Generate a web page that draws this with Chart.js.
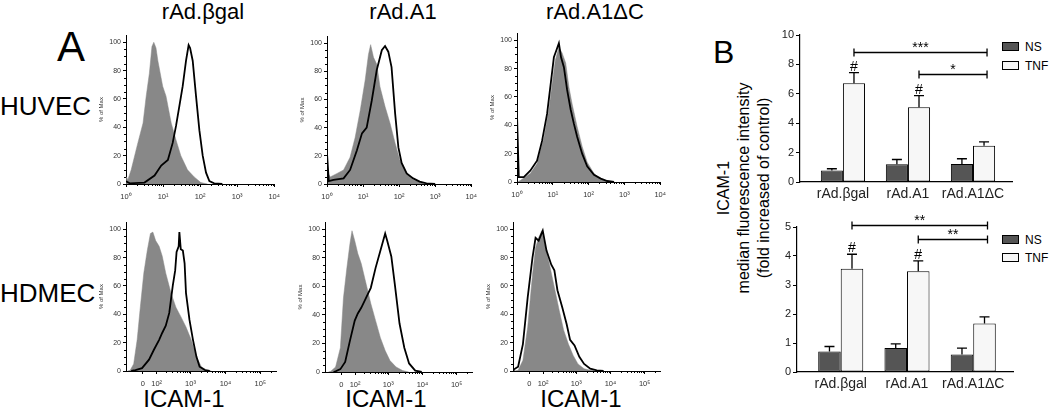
<!DOCTYPE html>
<html>
<head>
<meta charset="utf-8">
<script src="https://cdn.jsdelivr.net/npm/chart.js@4/dist/chart.umd.min.js"></script>
<style>
  body { margin: 0; background: #fff; width: 1050px; height: 414px; position: relative; overflow: hidden;
         font-family: "Liberation Sans", Arial, sans-serif; color: #000; }
  .t { position: absolute; white-space: nowrap; line-height: 1; }
  .c { transform: translateX(-50%); }
  canvas { position: absolute; }
  .lg { position: absolute; width: 17px; height: 9px; border: 1px solid #000; box-sizing: border-box; }
  .ylab { position: absolute; left: 624px; top: 158px; width: 240px; font-size: 16px; line-height: 20px;
          text-align: center; transform: rotate(-90deg); }
</style>
</head>
<body>

<div class="t c" style="left:203px;top:1px;font-size:22px">rAd.βgal</div>
<div class="t c" style="left:403px;top:1px;font-size:22px">rAd.A1</div>
<div class="t c" style="left:595px;top:1px;font-size:22px">rAd.A1ΔC</div>
<div class="t" style="left:57px;top:26px;font-size:42px">A</div>
<div class="t" style="left:0px;top:93px;font-size:26px">HUVEC</div>
<div class="t" style="left:0px;top:280px;font-size:26px">HDMEC</div>
<div class="t c" style="left:184px;top:387px;font-size:24px">ICAM-1</div>
<div class="t c" style="left:386px;top:387px;font-size:24px">ICAM-1</div>
<div class="t c" style="left:581px;top:387px;font-size:24px">ICAM-1</div>
<div class="t" style="left:713px;top:36px;font-size:32px">B</div>
<div class="ylab">ICAM-1<br>median fluorescence intensity<br>(fold increased of control)</div>

<div class="lg" style="left:1002px;top:42px;background:#555"></div>
<div class="t" style="left:1025px;top:41px;font-size:12px">NS</div>
<div class="lg" style="left:1002px;top:61px;background:#f7f7f7"></div>
<div class="t" style="left:1025px;top:60px;font-size:12px">TNF</div>
<div class="lg" style="left:1002px;top:235px;background:#555"></div>
<div class="t" style="left:1025px;top:234px;font-size:12px">NS</div>
<div class="lg" style="left:1002px;top:253px;background:#f7f7f7"></div>
<div class="t" style="left:1025px;top:252px;font-size:12px">TNF</div>

<canvas id="h1"></canvas><canvas id="h2"></canvas><canvas id="h3"></canvas>
<canvas id="h4"></canvas><canvas id="h5"></canvas><canvas id="h6"></canvas>
<canvas id="b1"></canvas><canvas id="b2"></canvas>

<script>
// histograms: [position, % of max]; top row in decades (10^0 = 0), bottom row biexponential units
const huvecBgalCtrl = [[0,0],[0.01,5],[0.05,3],[0.14,10],[0.32,29],[0.46,43],[0.545,62],[0.63,78],[0.70,97],[0.75,100],[0.81,96],[0.86,87],[0.99,69],[1.08,62],[1.22,43],[1.35,31],[1.48,20],[1.66,10],[1.84,5],[2.02,1],[2.2,0]];
const huvecBgalIcam = [[0,2],[0.1,0.5],[0.5,1],[0.77,6],[0.95,13],[1.13,17],[1.26,29],[1.35,41],[1.44,55],[1.53,69],[1.62,87],[1.69,98],[1.73,96],[1.80,87],[1.89,62],[1.98,38],[2.07,20],[2.16,8],[2.25,2],[2.38,0.5],[2.6,0]];
const huvecA1Ctrl = [[0,0],[0.02,8],[0.09,5],[0.28,7.5],[0.46,10],[0.64,19],[0.78,33],[0.92,52],[1.06,74],[1.15,92],[1.21,99],[1.29,90],[1.38,85],[1.47,69],[1.61,55],[1.75,43],[1.89,29],[2.02,17],[2.21,7.5],[2.39,3],[2.67,0.5],[2.9,0]];
const huvecA1Icam = [[0,0],[0,22],[0.05,2],[0.18,3],[0.46,4],[0.64,10],[0.83,24],[0.97,36],[1.10,40],[1.24,59],[1.38,81],[1.52,95],[1.61,98],[1.70,94],[1.79,83],[1.89,50],[1.98,26],[2.07,15],[2.21,7.5],[2.39,4],[2.57,1.7],[2.76,0.5],[3.0,0]];
const huvecDcCtrl = [[0,0],[0.09,1],[0.37,6],[0.56,13],[0.75,31],[0.89,51],[0.98,69],[1.07,86],[1.17,95],[1.26,91],[1.36,84],[1.45,67],[1.54,55],[1.68,39],[1.82,25],[1.96,14],[2.15,6],[2.34,2],[2.52,0.5],[2.7,0]];
const huvecDcIcam = [[0,0],[0,48],[0.05,3.5],[0.19,3.5],[0.37,8],[0.56,15],[0.70,29],[0.84,48],[0.93,67],[1.03,88],[1.10,93],[1.17,98],[1.23,88],[1.31,81],[1.40,65],[1.50,51],[1.59,41],[1.68,32],[1.82,20],[1.96,11],[2.15,5],[2.34,2.4],[2.52,0.7],[2.71,0]];
const hdmecBgalCtrl = [[1.2,0],[1.27,0.5],[1.37,5],[1.47,22],[1.56,45],[1.66,69],[1.76,85],[1.85,97],[1.92,98],[2.0,92],[2.10,88],[2.19,81],[2.29,69],[2.44,55],[2.58,45],[2.73,38],[2.87,31],[3.02,22],[3.17,10],[3.31,3],[3.46,0.7],[3.6,0]];
const hdmecBgalIcam = [[1.3,0],[1.42,0.7],[1.61,2],[1.81,8],[1.95,15],[2.10,22],[2.19,27],[2.29,32],[2.39,41],[2.49,60],[2.56,71],[2.6,84],[2.66,88],[2.68,98],[2.72,86],[2.78,85],[2.83,76],[2.87,55],[2.97,36],[3.07,22],[3.17,10],[3.26,3],[3.41,0.7],[3.55,0]];
const hdmecA1Ctrl = [[1.25,0],[1.32,0.5],[1.46,3.5],[1.6,17],[1.69,52],[1.79,73],[1.88,90],[1.94,99],[2.02,92],[2.11,83],[2.21,76],[2.35,62],[2.49,48],[2.63,36],[2.77,24],[2.91,15],[3.05,8],[3.23,3.5],[3.42,1],[3.6,0]];
const hdmecA1Icam = [[1.4,0],[1.46,0.5],[1.6,2],[1.74,7],[1.88,22],[2.02,36],[2.11,41],[2.21,45],[2.35,52],[2.49,59],[2.63,73],[2.77,85],[2.91,97],[2.97,92],[3.09,81],[3.19,62],[3.33,34],[3.47,17],[3.61,6],[3.79,1],[3.98,0]];
const hdmecDcCtrl = [[1.2,0],[1.30,0.5],[1.44,7.5],[1.58,31],[1.72,68],[1.81,87],[1.90,94],[1.99,99],[2.08,89],[2.22,75],[2.36,59],[2.50,43],[2.63,29],[2.77,19],[2.91,11],[3.05,5],[3.23,1.6],[3.41,0.5],[3.6,0]];
const hdmecDcIcam = [[1.15,0.5],[1.17,1],[1.30,3],[1.44,19],[1.58,52],[1.72,80],[1.81,94],[1.90,92],[2.02,99],[2.13,85],[2.27,75],[2.36,71],[2.45,57],[2.59,45],[2.72,33],[2.82,22],[2.95,18],[3.09,10],[3.23,5],[3.41,1.6],[3.6,0.5],[3.8,0]];

const pctTicks = [0, 20, 40, 60, 80, 100];
const logTickPos = [0, 1, 2, 3, 4];
const logTickLabels = ['10⁰', '10¹', '10²', '10³', '10⁴'];
const biexTickPos = [1.63, 2.03, 3, 4, 5];
const biexTickLabels = ['0', '10²', '10³', '10⁴', '10⁵'];

// bar panels B
const categories = ['rAd.βgal', 'rAd.A1', 'rAd.A1ΔC'];
const huvecNS = [0.78, 1.2, 1.23];
const huvecNSErr = [0.12, 0.33, 0.35];
const huvecTNF = [6.72, 5.08, 2.47];
const huvecTNFErr = [0.72, 0.8, 0.26];
const hdmecNS = [0.71, 0.83, 0.6];
const hdmecNSErr = [0.17, 0.14, 0.22];
const hdmecTNF = [3.56, 3.47, 1.67];
const hdmecTNFErr = [0.5, 0.36, 0.23];
const tnfMarks = ['#', '#', ''];
const huvecBrackets = [{from: 0, to: 2, y: 8.85, label: '***'}, {from: 1, to: 2, y: 7.35, label: '*'}];
const hdmecBrackets = [{from: 0, to: 2, y: 5.08, label: '**'}, {from: 1, to: 2, y: 4.57, label: '**'}];

Chart.defaults.font.family = '"Liberation Sans", Arial, sans-serif';
Chart.defaults.animation = false;

const minorTicks = {
  id: 'minorTicks',
  afterDraw(chart, args, o) {
    const {ctx, scales: {x, y}} = chart;
    ctx.save();
    ctx.strokeStyle = '#000';
    ctx.lineWidth = 1;
    ctx.beginPath();
    for (let v = 5; v < 105; v += 5) {
      if (v % 20 === 0) continue;
      const py = Math.round(y.getPixelForValue(v)) + 0.5;
      ctx.moveTo(y.right - 2, py); ctx.lineTo(y.right, py);
    }
    (o.decades || []).forEach(d => {
      for (let k = 2; k < 10; k++) {
        const v = d + Math.log10(k);
        if (v > x.max) continue;
        const px = Math.round(x.getPixelForValue(v)) + 0.5;
        ctx.moveTo(px, x.top); ctx.lineTo(px, x.top + 2);
      }
    });
    ctx.stroke();
    ctx.restore();
  }
};

function histChart(id, ctrl, icam, box, axis) {
  const pxPer = (box.y0 - box.y100) / 100;
  const areaTop = box.y100 - 5 * pxPer;
  const cv = document.getElementById(id);
  cv.style.left = (box.left - 40) + 'px';
  cv.style.top = (areaTop - 6) + 'px';
  cv.width = box.right - box.left + 50;
  cv.height = Math.round(box.y0 - areaTop + 30);
  new Chart(cv, {
    type: 'line',
    data: {
      datasets: [
        {data: icam.map(p => ({x: p[0], y: p[1]})), borderColor: '#000', borderWidth: 1.8,
         fill: false, pointRadius: 0, tension: 0, order: 0},
        {data: ctrl.map(p => ({x: p[0], y: p[1]})), borderColor: '#888', backgroundColor: '#888',
         borderWidth: 0.5, fill: 'origin', pointRadius: 0, tension: 0, order: 1}
      ]
    },
    options: {
      responsive: false,
      layout: {padding: {top: 6, right: 10, left: 0, bottom: 0}},
      plugins: {legend: {display: false}, tooltip: {enabled: false}, minorTicks: {decades: axis.decades}},
      scales: {
        x: {
          type: 'linear', min: axis.min, max: axis.max,
          afterBuildTicks: s => { s.ticks = axis.pos.map(v => ({value: v})); },
          afterFit: s => { s.height = 24; },
          ticks: {font: {size: 7.5}, color: '#333', padding: 5, maxRotation: 0, autoSkip: false,
                  callback: (v, i) => axis.labels[i]},
          grid: {drawOnChartArea: false, tickLength: 3, color: '#000'},
          border: {color: '#000', width: 1}
        },
        y: {
          min: 0, max: 105,
          afterBuildTicks: s => { s.ticks = pctTicks.map(v => ({value: v})); },
          afterFit: s => { s.width = 40; },
          ticks: {font: {size: 7}, color: '#333', padding: 2, autoSkip: false},
          grid: {drawOnChartArea: false, tickLength: 3, color: '#000'},
          border: {color: '#000', width: 1},
          title: {display: true, text: '% of Max', font: {size: 6}, color: '#333', padding: {top: 12, bottom: 0}}
        }
      }
    },
    plugins: [minorTicks]
  });
}

const topAxis = {min: 0, max: 4, pos: logTickPos, labels: logTickLabels, decades: [0, 1, 2, 3]};
const botAxis = {min: 1.15, max: 5.45, pos: biexTickPos, labels: biexTickLabels, decades: [2, 3, 4, 5]};

histChart('h1', huvecBgalCtrl, huvecBgalIcam, {left: 126, right: 275, y100: 42, y0: 184}, topAxis);
histChart('h2', huvecA1Ctrl, huvecA1Icam, {left: 327, right: 472, y100: 43, y0: 184}, topAxis);
histChart('h3', huvecDcCtrl, huvecDcIcam, {left: 517, right: 661, y100: 40, y0: 182}, topAxis);
histChart('h4', hdmecBgalCtrl, hdmecBgalIcam, {left: 126, right: 276, y100: 229, y0: 371}, botAxis);
histChart('h5', hdmecA1Ctrl, hdmecA1Icam, {left: 325, right: 472, y100: 229, y0: 372}, botAxis);
histChart('h6', hdmecDcCtrl, hdmecDcIcam, {left: 513, right: 660, y100: 229, y0: 371}, botAxis);

const errorBars = {
  id: 'errorBars',
  afterDatasetsDraw(chart, args, o) {
    const {ctx, scales: {y}} = chart;
    ctx.save();
    ctx.strokeStyle = '#000';
    ctx.fillStyle = '#000';
    ctx.lineWidth = 1.3;
    ctx.textAlign = 'center';
    ctx.textBaseline = 'alphabetic';
    chart.data.datasets.forEach((ds, i) => {
      chart.getDatasetMeta(i).data.forEach((bar, j) => {
        const yTop = y.getPixelForValue(ds.data[j].y + ds.errors[j]);
        ctx.beginPath();
        ctx.moveTo(bar.x, bar.y); ctx.lineTo(bar.x, yTop);
        ctx.moveTo(bar.x - 5, yTop); ctx.lineTo(bar.x + 5, yTop);
        ctx.stroke();
        if (ds.marks && ds.marks[j]) {
          ctx.font = '14px "Liberation Sans"';
          ctx.fillText(ds.marks[j], bar.x, yTop - 2);
        }
      });
    });
    const tnf = chart.getDatasetMeta(1).data;
    (o.brackets || []).forEach(b => {
      const x1 = tnf[b.from].x, x2 = tnf[b.to].x + 3;
      const py = Math.round(y.getPixelForValue(b.y)) + 0.5;
      ctx.beginPath();
      ctx.moveTo(x1, py); ctx.lineTo(x2, py);
      ctx.moveTo(x1, py - 4); ctx.lineTo(x1, py + 4);
      ctx.moveTo(x2, py - 4); ctx.lineTo(x2, py + 4);
      ctx.stroke();
      ctx.font = '14px "Liberation Sans"';
      ctx.fillText(b.label, (x1 + x2) / 2, py - 1);
    });
    ctx.restore();
  }
};

function barChart(id, ns, nsErr, tnf, tnfErr, brackets, yMax, yStep, box) {
  const cv = document.getElementById(id);
  cv.style.left = (box.left - 30) + 'px';
  cv.style.top = (box.top - 22) + 'px';
  cv.width = 1050 - (box.left - 30);
  cv.height = box.bottom - box.top + 22 + 24;
  new Chart(cv, {
    type: 'bar',
    data: {
      datasets: [
        {label: 'NS', data: ns.map((v, i) => ({x: i, y: v})), errors: nsErr,
         backgroundColor: '#555', borderColor: '#000', borderWidth: 1, borderSkipped: false},
        {label: 'TNF', data: tnf.map((v, i) => ({x: i, y: v})), errors: tnfErr, marks: tnfMarks,
         backgroundColor: '#f7f7f7', borderColor: '#000', borderWidth: 1, borderSkipped: false}
      ]
    },
    options: {
      responsive: false,
      categoryPercentage: 0.68,
      barPercentage: 1,
      layout: {padding: {top: 22, right: 1050 - box.right, left: 0, bottom: 0}},
      plugins: {legend: {display: false}, tooltip: {enabled: false}, errorBars: {brackets: brackets}},
      scales: {
        x: {
          type: 'linear', min: -0.66, max: 2.6, offset: false,
          afterBuildTicks: s => { s.ticks = categories.map((c, i) => ({value: i})); },
          afterFit: s => { s.height = 24; },
          ticks: {font: {size: 14}, color: '#222', padding: 4, maxRotation: 0, autoSkip: false,
                  callback: v => categories[v]},
          grid: {drawOnChartArea: false, drawTicks: false},
          border: {color: '#000', width: 1.2}
        },
        y: {
          min: 0, max: yMax,
          ticks: {stepSize: yStep, font: {size: 11}, color: '#222', padding: 2},
          afterFit: s => { s.width = 30; },
          grid: {drawOnChartArea: false, tickLength: 4, color: '#000'},
          border: {color: '#000', width: 1.2}
        }
      }
    },
    plugins: [errorBars]
  });
}

barChart('b1', huvecNS, huvecNSErr, huvecTNF, huvecTNFErr, huvecBrackets, 10, 2, {left: 800, right: 1012, top: 35, bottom: 182});
barChart('b2', hdmecNS, hdmecNSErr, hdmecTNF, hdmecTNFErr, hdmecBrackets, 5, 1, {left: 797, right: 1013, top: 227, bottom: 372});
</script>
</body>
</html>
